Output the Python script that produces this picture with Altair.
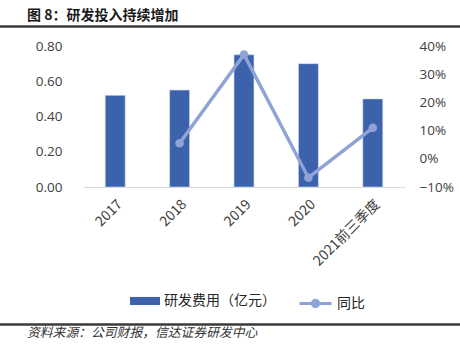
import altair as alt
import pandas as pd

years = ["2017", "2018", "2019", "2020", "2021前三季度"]
rd_cost = [0.52, 0.55, 0.75, 0.70, 0.50]
yoy = [None, 0.055, 0.37, -0.067, 0.11]
left_ticks = [0.0, 0.2, 0.4, 0.6, 0.8]
right_ticks = [-0.1, 0.0, 0.1, 0.2, 0.3, 0.4]
bar_name = "研发费用（亿元）"
line_name = "同比"
title_text = "图 8：研发投入持续增加"
source_text = "资料来源：公司财报，信达证券研发中心"

df = pd.DataFrame({"year": years, "rd": rd_cost, "yoy": yoy,
                   "s1": [bar_name] * len(years), "s2": [line_name] * len(years)})

BAR = "#3C62AC"
LINE = "#8FA3D6"
FONT = "Open Sans"
CJK = "Noto Sans CJK SC"

xenc = alt.X("year:N", sort=years, title=None,
             scale=alt.Scale(paddingInner=0.69, paddingOuter=0.345),
             axis=alt.Axis(labelAngle=-45, ticks=False, domainColor="#D9D9D9",
                           labelFont=CJK, labelFontSize=14, labelColor="#404040",
                           labelPadding=10))

bars = alt.Chart(df).mark_bar(stroke="#D6DEEF", strokeWidth=0.6).encode(
    x=xenc,
    y=alt.Y("rd:Q", title=None,
            scale=alt.Scale(domain=[0, 0.8], nice=False),
            axis=alt.Axis(values=left_ticks, format=".2f", grid=False, domain=False,
                          ticks=False, labelPadding=21, labelFont=FONT,
                          labelFontSize=13.5, labelColor="#404040")),
    color=alt.Color("s1:N", scale=alt.Scale(domain=[bar_name], range=[BAR]),
                    legend=alt.Legend(title=None, orient="none", legendX=47, legendY=240,
                                      symbolType="M-1,-0.27H1V0.27H-1Z", symbolSize=900,
                                      symbolStrokeWidth=0, labelFont=CJK, labelFontSize=14,
                                      labelColor="#262626", labelOffset=4, padding=0)),
)

yr = alt.Y("yoy:Q", title=None,
           scale=alt.Scale(domain=[-0.1, 0.4], nice=False),
           axis=alt.Axis(orient="right", values=right_ticks, format=".0%", grid=False,
                         domain=False, ticks=False, labelPadding=14, labelFont=FONT,
                         labelFontSize=13.5, labelColor="#404040"))

line = alt.Chart(df).mark_line(strokeWidth=3.5, point=alt.OverlayMarkDef(size=75, fill=LINE, filled=True)).encode(
    x=alt.X("year:N", sort=years),
    y=yr,
    color=alt.Color("s2:N", scale=alt.Scale(domain=[line_name], range=[LINE]),
                    legend=alt.Legend(title=None, orient="none", legendX=215, legendY=240,
                                      symbolType="M-1,0H1M0.2,0A0.2,0.2 0 1,1 -0.2,0A0.2,0.2 0 1,1 0.2,0Z",
                                      symbolSize=1024, symbolStrokeWidth=3,
                                      symbolFillColor=LINE, symbolStrokeColor=LINE,
                                      labelFont=CJK, labelFontSize=14, labelColor="#262626",
                                      labelOffset=4, padding=0)),
)

one = alt.Data(values=[{"a": 1}])

title = alt.Chart(one).mark_text(align="left", baseline="middle", font=CJK, fontSize=14,
                                 fontWeight="bold", color="#1a1a1a").encode(
    x=alt.value(-56), y=alt.value(-30), text=alt.value(title_text))

source = alt.Chart(one).mark_text(align="left", baseline="middle", font=CJK, fontSize=12.8,
                                  fontStyle="italic", color="#333333").encode(
    x=alt.value(-56), y=alt.value(287), text=alt.value(source_text))

rule_top = alt.Chart(one).mark_rule(color="#3a3a3a", strokeWidth=2.5).encode(
    x=alt.value(-83), x2=alt.value(377), y=alt.value(-19.5))
rule_bottom = alt.Chart(one).mark_rule(color="#3a3a3a", strokeWidth=2.5).encode(
    x=alt.value(-83), x2=alt.value(377), y=alt.value(278.5))

main = alt.layer(bars, line).resolve_scale(y="independent", color="independent")

chart = alt.layer(main, title, source, rule_top, rule_bottom).properties(
    width=322, height=141,
    autosize=alt.AutoSizeParams(type="none"),
    padding={"left": 83, "top": 46, "right": 55, "bottom": 159},
    background="white",
).configure_view(stroke=None)

chart.save("out.html", embed_options={"renderer": "svg", "actions": False})
